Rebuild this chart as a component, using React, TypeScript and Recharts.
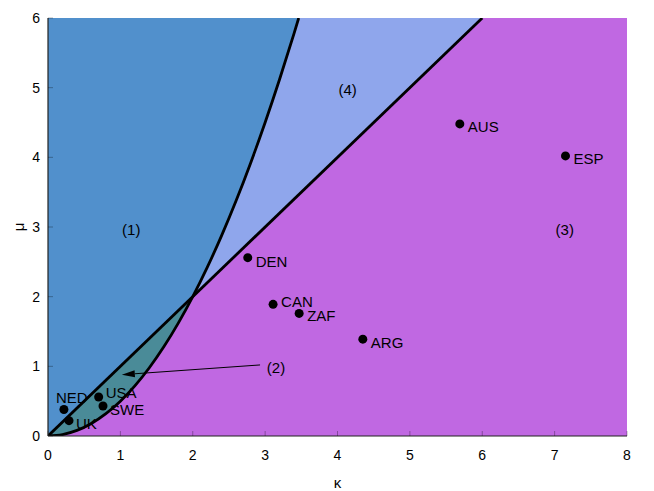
import React from "react";
import {
  ComposedChart,
  Area,
  Line,
  Scatter,
  XAxis,
  YAxis,
  ReferenceLine,
} from "recharts";

// boundary curves
const parabolaKappa = [0, 0.2, 0.4, 0.6, 0.8, 1.0, 1.2, 1.4, 1.6, 1.8, 2.0, 2.2, 2.4, 2.6, 2.8, 3.0, 3.2, 3.4, 3.464];
const parabolaMu = [0, 0.02, 0.08, 0.18, 0.32, 0.5, 0.72, 0.98, 1.28, 1.62, 2.0, 2.42, 2.88, 3.38, 3.92, 4.5, 5.12, 5.78, 6.0];
const diagonalKappa = [0, 6];
const diagonalMu = [0, 6];

// countries
const countryNames = ["NED", "UK", "USA", "SWE", "DEN", "CAN", "ZAF", "ARG", "AUS", "ESP"];
const countryKappa = [0.22, 0.29, 0.7, 0.76, 2.76, 3.11, 3.47, 4.35, 5.69, 7.15];
const countryMu = [0.38, 0.22, 0.56, 0.43, 2.56, 1.89, 1.76, 1.39, 4.48, 4.02];

// region labels
const regionNames = ["(1)", "(2)", "(3)", "(4)"];
const regionKappa = [1.15, 3.15, 7.14, 4.14];
const regionMu = [2.96, 0.98, 2.96, 4.97];

// arrow from label (2) into the region
const arrowFrom = { k: 2.93, m: 1.02 };
const arrowTo = { k: 1.02, m: 0.88 };

const xTicks = [0, 1, 2, 3, 4, 5, 6, 7, 8];
const yTicks = [0, 1, 2, 3, 4, 5, 6];
const K_MAX = 8;
const M_MAX = 6;

const FONT = "'Liberation Sans', Arial, sans-serif";
const BLUE = "#5190cc";
const LIGHT_BLUE = "#8fa6ec";
const PURPLE = "#c068e2";
const TEAL = "#4a8b98";

// label nudges (px) relative to each dot
const nudge: Record<string, [number, number, "start" | "end"]> = {
  NED: [-8, -12, "start"],
  UK: [7, 3, "start"],
  USA: [7, -4, "start"],
  SWE: [7, 3, "start"],
  DEN: [8, 4, "start"],
  CAN: [8, -3, "start"],
  ZAF: [8, 2, "start"],
  ARG: [8, 3, "start"],
  AUS: [8, 3, "start"],
  ESP: [8, 3, "start"],
};

const parabola = parabolaKappa.map((k, i) => ({ k, m: parabolaMu[i] }));
const diagonal = diagonalKappa.map((k, i) => ({ k, m: diagonalMu[i] }));
const background = [
  { k: 0, band: [0, M_MAX] },
  { k: K_MAX, band: [0, M_MAX] },
];
const region4 = diagonal.map((d) => ({ k: d.k, band: [d.m, M_MAX] }));
const region1 = parabola.map((p) => ({ k: p.k, band: [p.m, M_MAX] }));
const region2 = parabola.filter((p) => p.k <= 2).map((p) => ({ k: p.k, band: [p.m, p.k] }));
const countries = countryNames.map((name, i) => ({ name, k: countryKappa[i], m: countryMu[i] }));
const regions = regionNames.map((name, i) => ({ name, k: regionKappa[i], m: regionMu[i] }));

const CountryDot = (props: any) => {
  const { cx, cy, payload } = props;
  const [dx, dy, anchor] = nudge[payload.name];
  return (
    <g>
      <circle cx={cx} cy={cy} r={4.5} fill="#000" />
      <text
        x={cx + dx}
        y={cy + dy}
        textAnchor={anchor}
        dominantBaseline="central"
        fontSize={15}
        fontFamily={FONT}
        fill="#000"
      >
        {payload.name}
      </text>
    </g>
  );
};

const RegionText = (props: any) => {
  const { cx, cy, payload } = props;
  return (
    <text
      x={cx}
      y={cy}
      textAnchor="middle"
      dominantBaseline="central"
      fontSize={15}
      fontFamily={FONT}
      fill="#000"
    >
      {payload.name}
    </text>
  );
};

const Arrow = (props: any) => {
  const { x1, y1, x2, y2 } = props;
  const ang = Math.atan2(y2 - y1, x2 - x1);
  const len = 13;
  const half = 3.5;
  const bx = x2 - len * Math.cos(ang);
  const by = y2 - len * Math.sin(ang);
  const px = -Math.sin(ang) * half;
  const py = Math.cos(ang) * half;
  return (
    <g>
      <line x1={x1} y1={y1} x2={bx} y2={by} stroke="#000" strokeWidth={1} />
      <polygon points={`${x2},${y2} ${bx + px},${by + py} ${bx - px},${by - py}`} fill="#000" />
    </g>
  );
};

const MuLabel = (props: any) => {
  const { viewBox } = props;
  const x = viewBox.x + 18;
  const y = viewBox.y + viewBox.height / 2;
  return (
    <text
      x={x}
      y={y}
      transform={`rotate(-90, ${x}, ${y})`}
      textAnchor="middle"
      dominantBaseline="central"
      fontSize={15}
      fontFamily={FONT}
      fill="#000"
    >
      μ
    </text>
  );
};

const tickStyle = { fill: "#000", fontSize: 14, fontFamily: FONT };
const tickLineStyle = { stroke: "rgba(0,0,0,0.3)" };
const frameStyle = { stroke: "#222", strokeWidth: 1.2 };

export default function App() {
  return (
    <div style={{ position: "absolute", left: 0, top: 0, background: "#fff" }}>
      <ComposedChart width={654} height={491} margin={{ top: 18, right: 27, bottom: 0, left: 0 }}>
        <Area data={background} dataKey="band" type="linear" stroke="none" fill={PURPLE} fillOpacity={1} isAnimationActive={false} />
        <Area data={region4} dataKey="band" type="linear" stroke="none" fill={LIGHT_BLUE} fillOpacity={1} isAnimationActive={false} />
        <Area data={region1} dataKey="band" type="monotone" stroke="none" fill={BLUE} fillOpacity={1} isAnimationActive={false} />
        <Area data={region2} dataKey="band" type="monotone" stroke="none" fill={TEAL} fillOpacity={1} isAnimationActive={false} />
        <Line data={diagonal} dataKey="m" type="linear" stroke="#000" strokeWidth={2.8} dot={false} isAnimationActive={false} />
        <Line data={parabola} dataKey="m" type="monotone" stroke="#000" strokeWidth={2.8} dot={false} isAnimationActive={false} />
        <ReferenceLine
          segment={[
            { x: arrowFrom.k, y: arrowFrom.m },
            { x: arrowTo.k, y: arrowTo.m },
          ]}
          shape={Arrow}
        />
        <Scatter data={countries} dataKey="m" shape={CountryDot} isAnimationActive={false} />
        <Scatter data={regions} dataKey="m" shape={RegionText} isAnimationActive={false} />

        <XAxis
          dataKey="k"
          type="number"
          domain={[0, K_MAX]}
          ticks={xTicks}
          allowDataOverflow
          height={55}
          tickSize={-5}
          tickMargin={19}
          tick={tickStyle}
          tickLine={tickLineStyle}
          axisLine={frameStyle}
          label={{ value: "κ", position: "insideBottom", offset: 3, fontSize: 15, fill: "#000", fontFamily: FONT }}
        />
        <XAxis
          xAxisId="top"
          orientation="top"
          dataKey="k"
          type="number"
          domain={[0, K_MAX]}
          ticks={xTicks}
          allowDataOverflow
          height={0}
          tickSize={-5}
          tick={false}
          tickLine={tickLineStyle}
          axisLine={frameStyle}
        />
        <YAxis
          type="number"
          domain={[0, M_MAX]}
          ticks={yTicks}
          allowDataOverflow
          width={48}
          tickSize={-5}
          tickMargin={13}
          tick={tickStyle}
          tickLine={tickLineStyle}
          axisLine={frameStyle}
          label={<MuLabel />}
        />
        <YAxis
          yAxisId="right"
          orientation="right"
          type="number"
          domain={[0, M_MAX]}
          ticks={yTicks}
          allowDataOverflow
          width={0}
          tickSize={-5}
          tick={false}
          tickLine={tickLineStyle}
          axisLine={frameStyle}
        />
      </ComposedChart>
    </div>
  );
}
